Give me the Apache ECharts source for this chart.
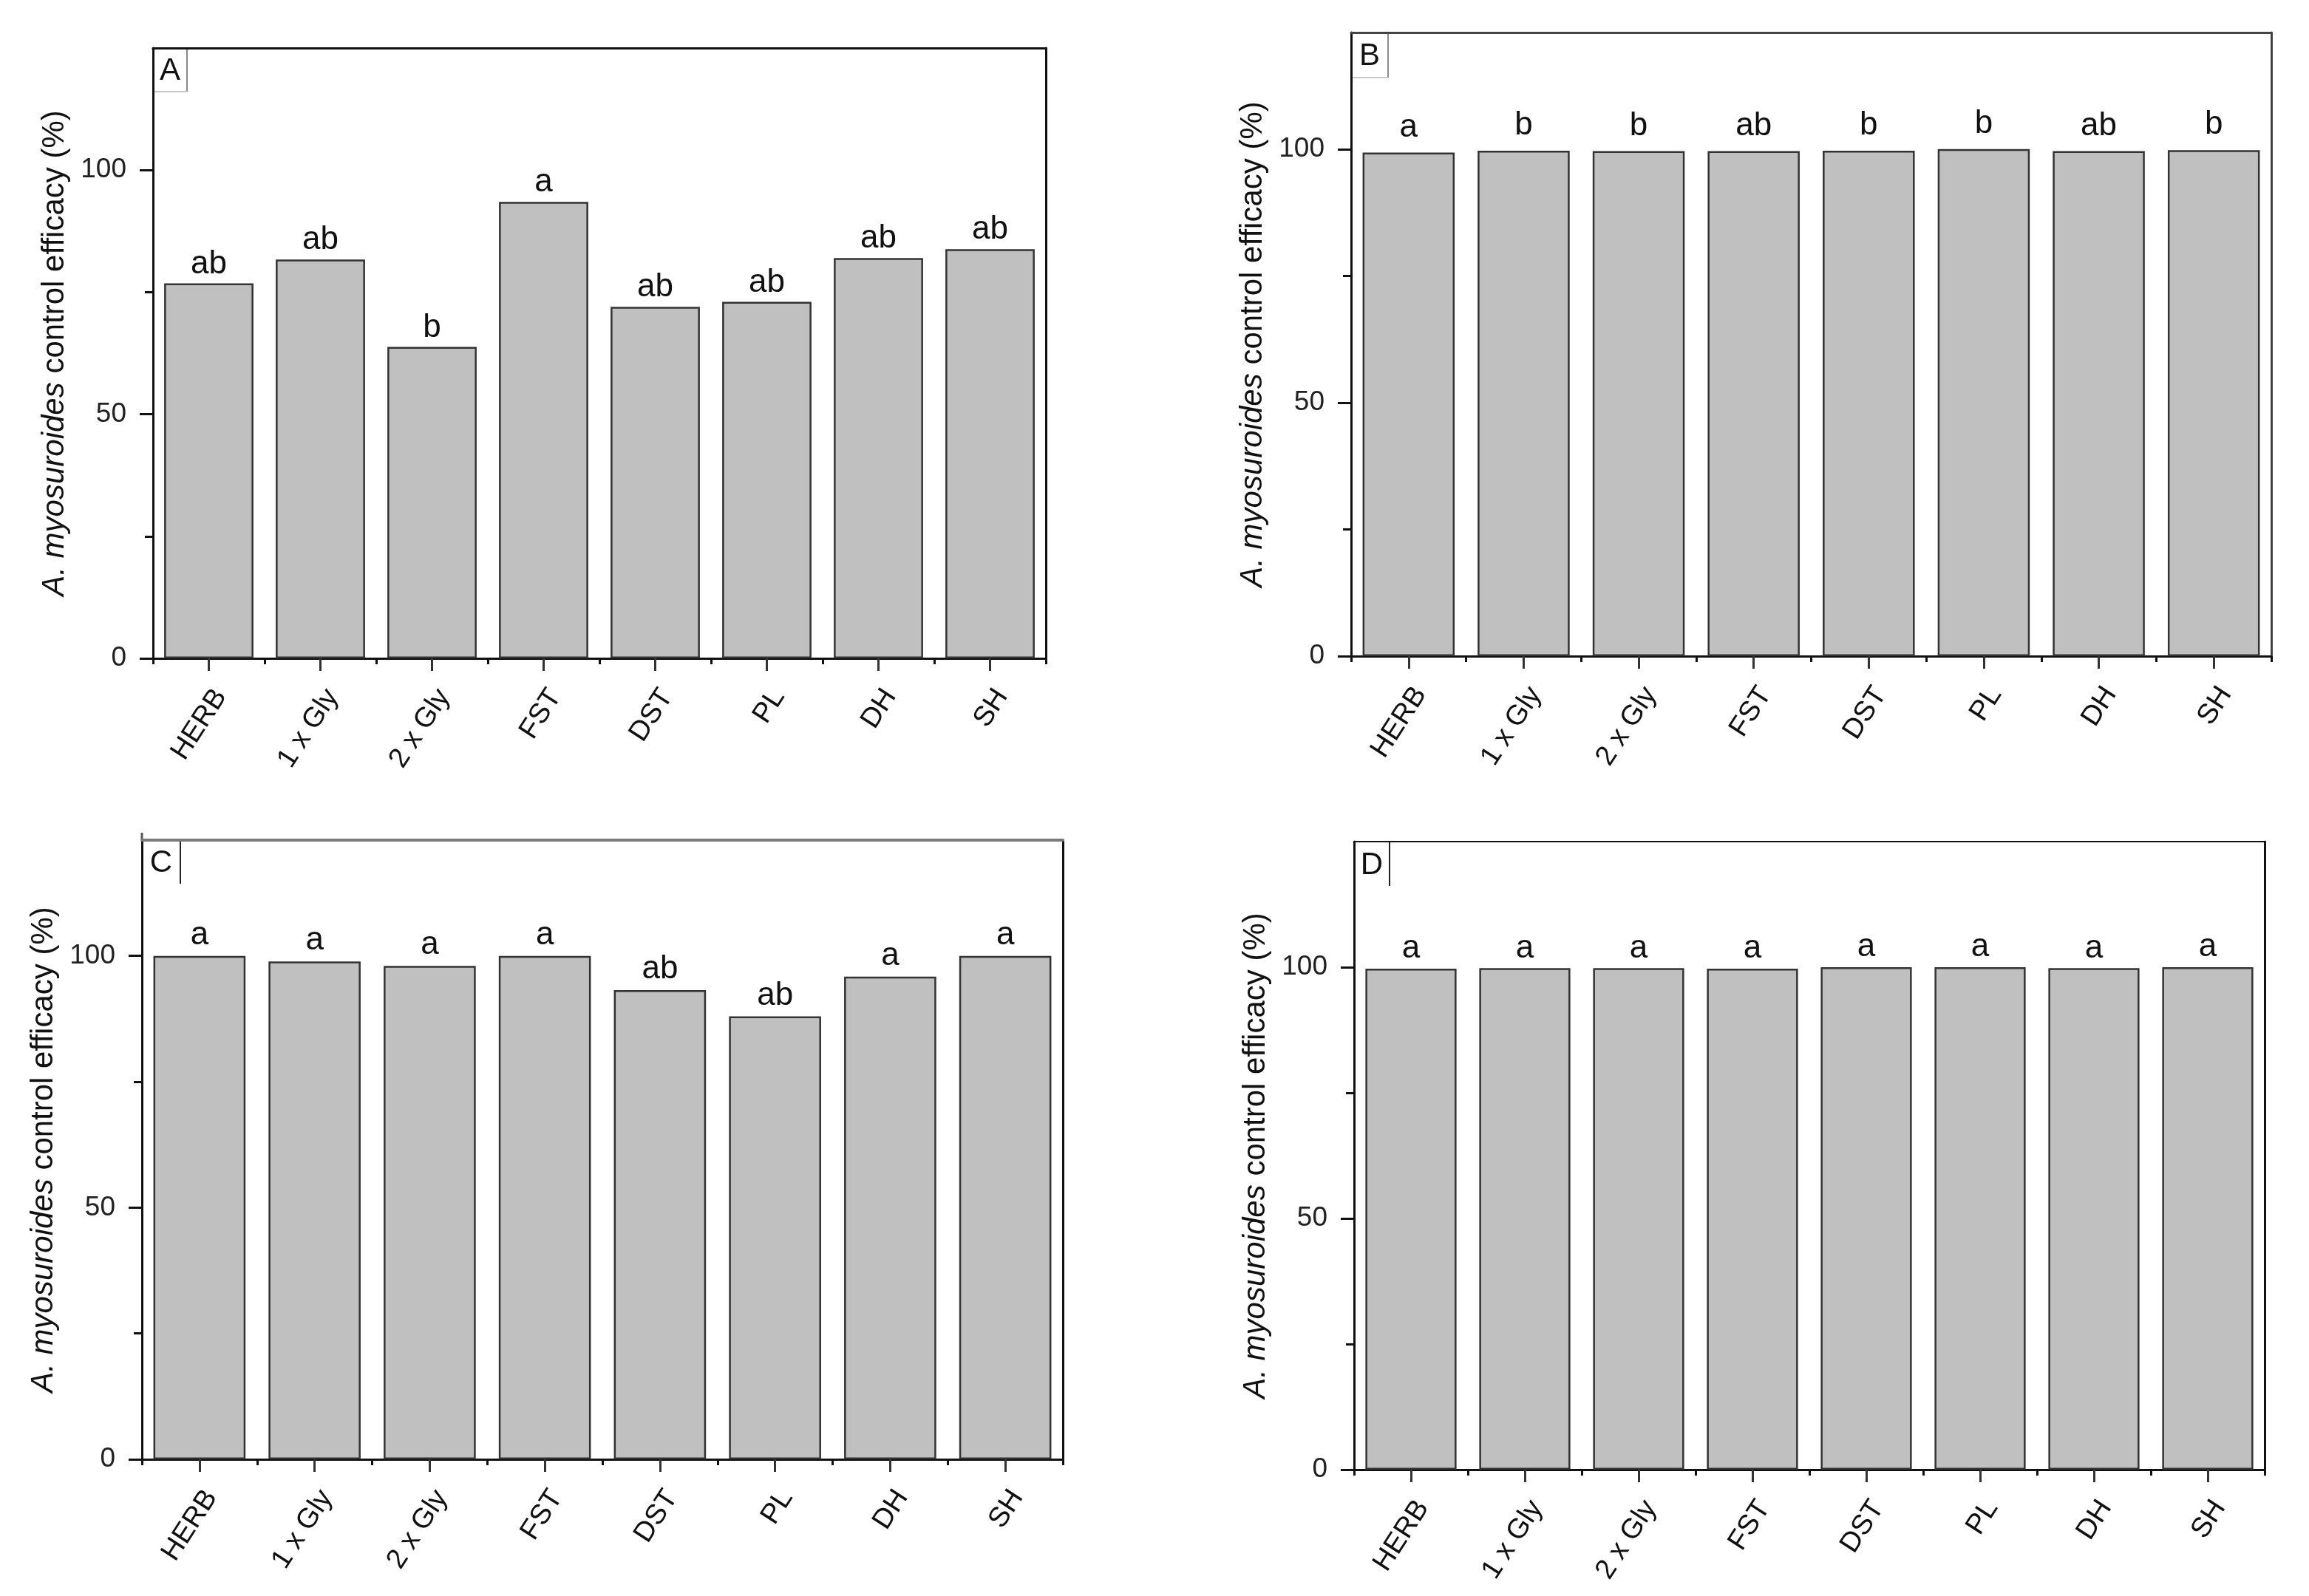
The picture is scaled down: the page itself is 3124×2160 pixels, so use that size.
<!DOCTYPE html>
<html>
<head>
<meta charset="utf-8">
<script src="https://cdn.jsdelivr.net/npm/echarts@6/dist/echarts.min.js"></script>
<style>
html,body{margin:0;padding:0;background:#fff;}
#chart{width:3124px;height:2160px;}
</style>
</head>
<body>
<div id="chart"></div>
<script>
// ---- data ----
var categories = ['HERB', '1 x Gly', '2 x Gly', 'FST', 'DST', 'PL', 'DH', 'SH'];
var valuesA = [76.8, 81.7, 63.8, 93.5, 72.0, 73.0, 82.0, 83.8];
var lettersA = ['ab', 'ab', 'b', 'a', 'ab', 'ab', 'ab', 'ab'];
var valuesB = [99.3, 99.7, 99.6, 99.6, 99.7, 100, 99.6, 99.8];
var lettersB = ['a', 'b', 'b', 'ab', 'b', 'b', 'ab', 'b'];
var valuesC = [100, 98.9, 98.0, 100, 93.2, 88.0, 95.9, 100];
var lettersC = ['a', 'a', 'a', 'a', 'ab', 'ab', 'a', 'a'];
var valuesD = [99.7, 99.8, 99.8, 99.7, 100, 100, 99.8, 100];
var lettersD = ['a', 'a', 'a', 'a', 'a', 'a', 'a', 'a'];
var yMajorTicks = [0, 50, 100];
var yMinorTicks = [25, 75];
var panelLetters = ['A', 'B', 'C', 'D'];
var yName = '{i|A. myosuroides} control efficacy (%)';

// ---- layout (pixels) ----
var panels = [
  {values: valuesA, letters: lettersA, max: 125, left: 207, top: 65, width: 1208, height: 826, labelDist: 4,
   topColor: '#111', rightColor: '#111', topWidth: 3, box: {w: 46, h: 59, right: true, bottom: true}},
  {values: valuesB, letters: lettersB, max: 123, left: 1828, top: 44, width: 1245, height: 844, labelDist: 12,
   topColor: '#444', rightColor: '#444', topWidth: 3, box: {w: 50, h: 61, right: true, bottom: true}},
  {values: valuesC, letters: lettersC, max: 123, left: 192, top: 1137, width: 1246, height: 838, labelDist: 6,
   topColor: '#7a7a7a', rightColor: '#111', topWidth: 4, box: {w: 52, h: 59, right: true, bottom: false, gapTop: true}},
  {values: valuesD, letters: lettersD, max: 125, left: 1832, top: 1139, width: 1232, height: 850, labelDist: 5,
   topColor: '#111', rightColor: '#111', topWidth: 2, box: {w: 48, h: 60, right: true, bottom: false}}
];

var FONT = '"Liberation Sans", Arial, sans-serif';
var grids = [], xAxes = [], yAxes = [], series = [], graphics = [];

panels.forEach(function (p, i) {
  grids.push({left: p.left, top: p.top, width: p.width, height: p.height, containLabel: false});
  // main bottom category axis (labels + centre ticks)
  xAxes.push({
    type: 'category', gridIndex: i, position: 'bottom', data: categories,
    axisLine: {show: true, onZero: false, lineStyle: {color: '#111', width: 3}},
    axisTick: {show: true, alignWithLabel: true, interval: 0, length: 17, lineStyle: {color: '#333', width: 3}},
    axisLabel: {show: true, interval: 0, rotate: 57, margin: 35, verticalAlign: 'top',
      fontFamily: FONT, fontSize: 38, color: '#111'},
    splitLine: {show: false}
  });
  // boundary ticks
  xAxes.push({
    type: 'category', gridIndex: i, position: 'bottom', data: categories,
    axisLine: {show: false, onZero: false},
    axisTick: {show: true, alignWithLabel: false, interval: 0, length: 8, lineStyle: {color: '#111', width: 3}},
    axisLabel: {show: false, interval: 0},
    splitLine: {show: false}
  });
  // top frame
  xAxes.push({
    type: 'category', gridIndex: i, position: 'top', data: categories,
    axisLine: {show: true, onZero: false, lineStyle: {color: p.topColor, width: p.topWidth}},
    axisTick: {show: false}, axisLabel: {show: false}, splitLine: {show: false}
  });
  // main y axis
  yAxes.push({
    type: 'value', gridIndex: i, position: 'left', min: 0, max: p.max, interval: 50,
    name: yName, nameLocation: 'middle', nameRotate: 90, nameGap: 112,
    nameTextStyle: {fontFamily: FONT, fontSize: 42, color: '#111',
      rich: {i: {fontFamily: FONT, fontSize: 42, fontStyle: 'italic', color: '#111'}}},
    axisLine: {show: true, onZero: false, lineStyle: {color: '#111', width: 3}},
    axisTick: {show: true, customValues: yMajorTicks, length: 18, lineStyle: {color: '#111', width: 3}},
    axisLabel: {show: true, customValues: yMajorTicks, margin: 36, fontFamily: FONT, fontSize: 37, color: '#222'},
    splitLine: {show: false}
  });
  // minor ticks
  yAxes.push({
    type: 'value', gridIndex: i, position: 'left', min: 0, max: p.max, interval: 25,
    axisLine: {show: false, onZero: false},
    axisTick: {show: true, customValues: yMinorTicks, length: 11, lineStyle: {color: '#111', width: 3}},
    axisLabel: {show: false}, splitLine: {show: false}
  });
  // right frame
  yAxes.push({
    type: 'value', gridIndex: i, position: 'right', min: 0, max: p.max, interval: 50,
    axisLine: {show: true, onZero: false, lineStyle: {color: p.rightColor, width: 3}},
    axisTick: {show: false}, axisLabel: {show: false}, splitLine: {show: false}
  });

  series.push({
    type: 'bar', xAxisIndex: i * 3, yAxisIndex: i * 3, data: p.values, barWidth: '80%',
    itemStyle: {color: '#c0c0c0', borderColor: '#333', borderWidth: 2.5},
    label: {
      show: true, position: 'top', distance: p.labelDist,
      fontFamily: FONT, fontSize: 44, color: '#111',
      formatter: (function (letters) { return function (d) { return letters[d.dataIndex]; }; })(p.letters)
    },
    emphasis: {disabled: true},
    silent: true, animation: false
  });

  // panel letter box
  var b = p.box;
  var bx = p.left, by = p.top;
  var children = [];
  if (b.gapTop) {
    children.push({type: 'rect', shape: {x: bx + 2, y: by - 4, width: b.w - 2, height: 8}, style: {fill: '#fff'}});
    children.push({type: 'line', shape: {x1: bx, y1: by - 10, x2: bx, y2: by}, style: {stroke: '#555', lineWidth: 3}});
  }
  children.push({type: 'text', style: {text: panelLetters[i], x: bx + b.w / 2, y: by + b.h / 2 + 2,
    align: 'center', verticalAlign: 'middle', font: '42px ' + FONT, fill: '#111'}});
  if (b.right) {
    children.push({type: 'line', shape: {x1: bx + b.w, y1: by, x2: bx + b.w, y2: by + b.h},
      style: {stroke: b.bottom ? '#8a8a8a' : '#222', lineWidth: 2}});
  }
  if (b.bottom) {
    children.push({type: 'line', shape: {x1: bx + 2, y1: by + b.h, x2: bx + b.w, y2: by + b.h},
      style: {stroke: '#c8c8c8', lineWidth: 2}});
  }
  graphics.push({type: 'group', z: 100, silent: true, children: children});
});

var chart = echarts.init(document.getElementById('chart'), null, {renderer: 'canvas'});
chart.setOption({
  backgroundColor: '#ffffff',
  animation: false,
  grid: grids,
  xAxis: xAxes,
  yAxis: yAxes,
  series: series,
  graphic: graphics
});
</script>
</body>
</html>
